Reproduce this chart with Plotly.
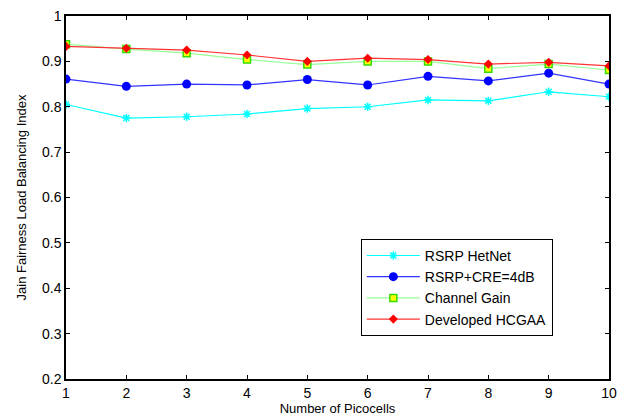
import plotly.graph_objects as go

picocells = [1, 2, 3, 4, 5, 6, 7, 8, 9, 10]
rsrp_hetnet = [0.805, 0.775, 0.778, 0.784, 0.796, 0.800, 0.815, 0.813, 0.833, 0.822]
rsrp_cre = [0.861, 0.845, 0.850, 0.848, 0.860, 0.848, 0.867, 0.857, 0.874, 0.850]
channel_gain = [0.938, 0.927, 0.918, 0.904, 0.893, 0.900, 0.900, 0.884, 0.894, 0.881]
hcgaa = [0.933, 0.929, 0.925, 0.914, 0.900, 0.907, 0.904, 0.894, 0.898, 0.890]

fig = go.Figure()
fig.add_trace(go.Scatter(x=picocells, y=rsrp_hetnet, name="RSRP HetNet", mode="lines+markers",
                         line=dict(color="#00FFFF", width=1.2),
                         marker=dict(symbol="asterisk-open", size=7, color="#00FFFF",
                                     line=dict(color="#00FFFF", width=1.5))))
fig.add_trace(go.Scatter(x=picocells, y=rsrp_cre, name="RSRP+CRE=4dB", mode="lines+markers",
                         line=dict(color="#3333FF", width=1.2),
                         marker=dict(symbol="circle", size=9, color="#0000FF")))
fig.add_trace(go.Scatter(x=picocells, y=channel_gain, name="Channel Gain", mode="lines+markers",
                         line=dict(color="#99FF99", width=1.2),
                         marker=dict(symbol="square", size=7, color="#FFFF00",
                                     line=dict(color="#33DD00", width=1.5))))
fig.add_trace(go.Scatter(x=picocells, y=hcgaa, name="Developed HCGAA", mode="lines+markers",
                         line=dict(color="#FF3333", width=1.2),
                         marker=dict(symbol="diamond", size=7, color="#FF0000")))

axis_common = dict(showgrid=False, zeroline=False, showline=True, linecolor="black", linewidth=1.5,
                   mirror="ticks", ticks="inside", ticklen=4, tickcolor="black", automargin=False,
                   tickfont=dict(family="Liberation Sans, Arial", size=14, color="black"))

fig.update_layout(
    width=631, height=417,
    margin=dict(l=66, r=22, t=16, b=38),
    paper_bgcolor="white", plot_bgcolor="white",
    font=dict(family="Liberation Sans, Arial", color="black"),
    xaxis=dict(range=[1, 10], tickvals=picocells, **axis_common,
               title=dict(text="Number of Picocells", font=dict(size=13), standoff=4)),
    yaxis=dict(range=[0.2, 1.0], tickvals=[0.2, 0.3, 0.4, 0.5, 0.6, 0.7, 0.8, 0.9, 1.0],
               ticktext=["0.2", "0.3", "0.4", "0.5", "0.6", "0.7", "0.8", "0.9", "1"], **axis_common,
               title=dict(text="Jain Fairness Load Balancing Index", font=dict(size=13), standoff=12)),
    legend=dict(x=0.543, y=0.386, xanchor="left", yanchor="top",
                bgcolor="white", bordercolor="black", borderwidth=1, itemwidth=53,
                font=dict(size=14, color="black"), tracegroupgap=0),
    showlegend=True,
)

fig.write_html("out.html", config={"displayModeBar": False},
               post_script="document.body.style.margin='0';document.body.style.padding='0';")
